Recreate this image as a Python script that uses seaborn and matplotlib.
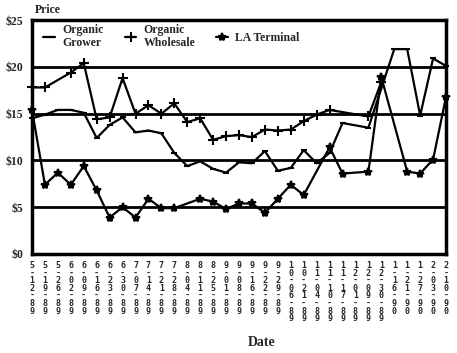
import numpy as np
import pandas as pd
import seaborn as sns
import matplotlib
matplotlib.use("Agg")
import matplotlib.pyplot as plt

nan = np.nan

dates = ["5-12-89", "5-19-89", "5-26-89", "6-02-89", "6-09-89", "6-16-89",
         "6-23-89", "6-30-89", "7-07-89", "7-14-89", "7-21-89", "7-28-89",
         "8-04-89", "8-11-89", "8-25-89", "9-01-89", "9-08-89", "9-16-89",
         "9-22-89", "9-29-89", "10-06-89", "10-21-89", "11-04-89", "11-10-89",
         "11-17-89", "12-01-89", "12-09-89", "12-30-89", "1-16-90", "1-21-90",
         "1-27-90", "2-03-90", "2-10-90"]

grower = [14.5, 14.9, 15.4, 15.4, 15.1, 12.4, 13.8, 14.6, 13.0, 13.2, 12.9,
          10.8, 9.4, 9.9, 9.1, 8.7, 9.8, 9.7, 11.0, 8.9, 9.2, 11.1, 9.7, 10.8,
          14.0, nan, 13.5, nan, 21.9, 21.9, 14.8, 20.9, 20.1]

wholesale = [17.8, 17.8, nan, 19.4, 20.4, 14.4, 14.6, 18.8, 15.0, 15.9, 15.0,
             16.1, 14.1, 14.5, 12.2, 12.6, 12.7, 12.5, 13.3, 13.2, 13.3, 14.2,
             14.9, 15.4, nan, nan, 14.7, 18.4, nan, nan, nan, nan, nan]

la_terminal = [15.4, 7.4, 8.7, 7.4, 9.4, 6.8, 3.9, 5.0, 3.9, 5.9, 4.9, 4.9,
               nan, 5.9, 5.6, 4.8, 5.4, 5.4, 4.4, 5.9, 7.4, 6.3, nan, 11.4,
               8.6, nan, 8.8, 18.9, nan, 8.8, 8.6, 10.1, 16.8]

series = [("Organic\nGrower", grower, "_", 4),
          ("Organic\nWholesale", wholesale, "+", 7.5),
          ("LA Terminal", la_terminal, "*", 6)]

sns.set_style("white")
plt.rcParams["font.family"] = "Liberation Serif"
plt.rcParams["font.weight"] = "bold"

fig = plt.figure(figsize=(4.57, 3.53), dpi=100)
ax = fig.add_axes([0.070, 0.2805, 0.906, 0.6625])

x = np.arange(len(dates))
for name, vals, mk, ms in series:
    df = pd.DataFrame({"x": x, "y": vals}).dropna()
    sns.lineplot(data=df, x="x", y="y", ax=ax, color="black", lw=1.6,
                 marker=mk, markersize=ms, markeredgewidth=1.5,
                 markeredgecolor="black", label=name, clip_on=False,
                 zorder=3)

ax.set_xlim(0, len(dates) - 1)
ax.set_ylim(0, 25)
ax.set_yticks([0, 5, 10, 15, 20, 25])
ax.set_yticklabels(["$0", "$5", "$10", "$15", "$20", "$25"], fontsize=8.5,
                   fontweight="bold")
for v in [5, 10, 15, 20]:
    ax.axhline(v, color="black", lw=2, zorder=1)

labels = ["\n".join(d) for d in dates]
ax.set_xticks(x)
ax.set_xticklabels(labels, family="DejaVu Sans Mono", fontweight="bold",
                   fontsize=6, linespacing=0.8)
ax.tick_params(axis="x", direction="in", length=3, width=1.2, pad=5,
               color="black")
ax.tick_params(axis="y", length=0, pad=6)
ax.set_xlabel("")
ax.set_ylabel("")

for s in ax.spines.values():
    s.set_visible(True)
    s.set_linewidth(2.5)
    s.set_color("black")

ax.legend(loc="center left", bbox_to_anchor=(0.01, 0.93), ncol=3,
          frameon=False, handlelength=1.0, handletextpad=0.6,
          columnspacing=1.8, borderaxespad=0.2,
          prop={"family": "Liberation Serif", "weight": "bold", "size": 8.5})

fig.text(35 / 457, 1 - 10 / 353, "Price", fontsize=8.5, fontweight="bold",
         va="center", ha="left")
fig.text(262 / 457, 1 - 343 / 353, "Date", fontsize=10, fontweight="bold",
         va="center", ha="center")

fig.savefig("out.png", dpi=100)
